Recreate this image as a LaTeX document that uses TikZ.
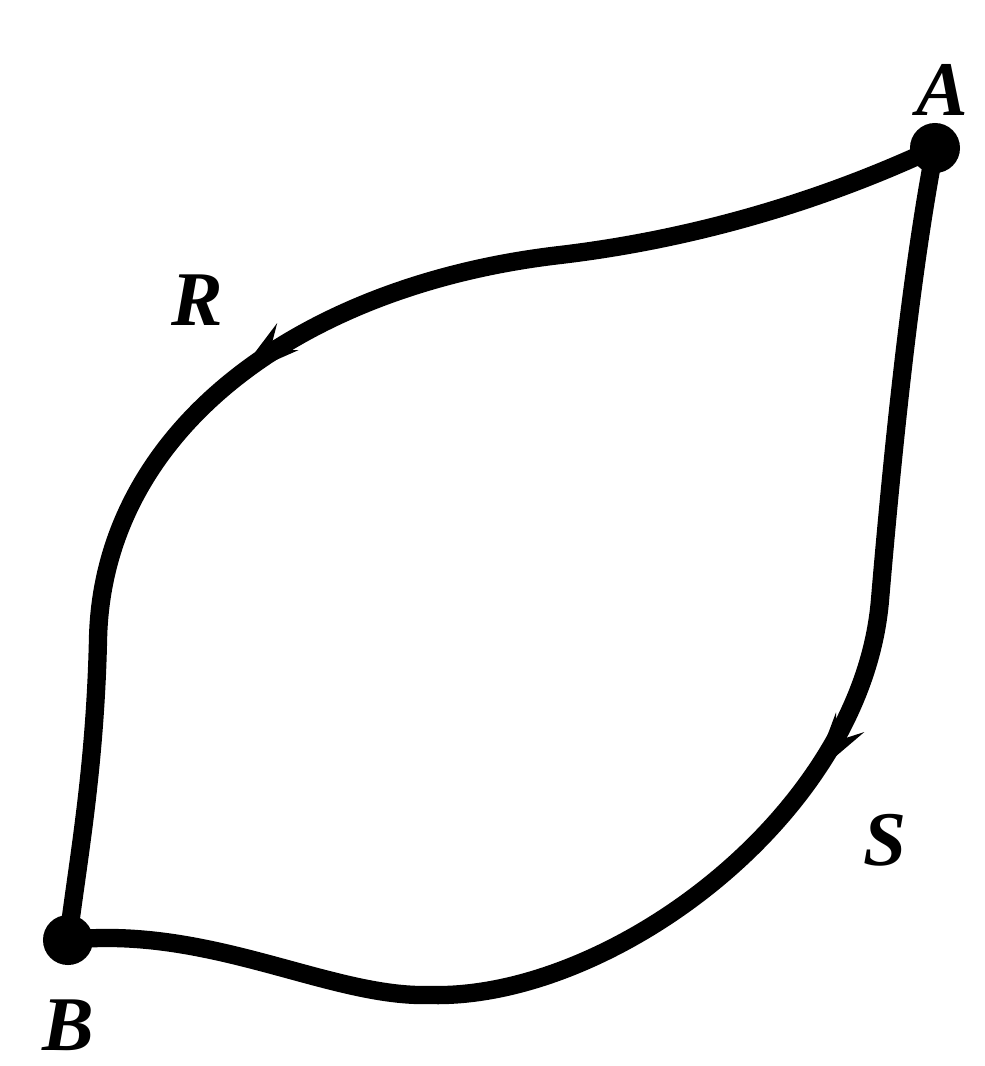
\documentclass[tikz,border=0pt]{standalone}
\usepackage{fontspec}
\setmainfont{Liberation Serif}
\usetikzlibrary{arrows.meta,decorations.markings}
\tikzset{
  dotnode/.style={circle, fill=black, inner sep=0pt, minimum size=5mm},
  curve/.style={line width=5.2pt, line cap=round},
  letter/.style={font=\fontsize{22}{26}\selectfont\bfseries\itshape, inner sep=1pt},
  midarrow/.style={postaction={decorate}, decoration={markings,
    mark=at position #1 with {\arrow{Stealth[length=6.5mm, width=3.3mm]}}}},
}

\begin{document}
\begin{tikzpicture}[x=0.01cm, y=-0.01cm]

  \useasboundingbox (0,0) rectangle (985,1066);

  \node[dotnode] (A) at (935,148) {};
  \node[dotnode] (B) at ( 68,940) {};

  \node[letter] (lA) at (942, 90) {A};
  \node[letter] (lB) at ( 68,1025) {B};
  \node[letter] (lR) at (197,300) {R};
  \node[letter] (lS) at (885,840) {S};

  \coordinate (r1) at (560,255);
  \coordinate (r2) at (98,640);
  \coordinate (s1) at (880,600);
  \coordinate (s2) at (430,995);

  % upper branch through R
  \draw[curve, midarrow=0.55] (A.center) .. controls (850,188) and (720,236) .. (r1)
    .. controls (300,285) and (102,430) .. (r2)
    .. controls (95,770) and (78,860) .. (B.center);

  % right branch through S
  \draw[curve, midarrow=0.44] (A.center) .. controls (915,250) and (896,410) .. (s1)
    .. controls (862,815) and (610,1000) .. (s2)
    .. controls (330,998) and (210,925) .. (B.center);

\end{tikzpicture}
\end{document}
